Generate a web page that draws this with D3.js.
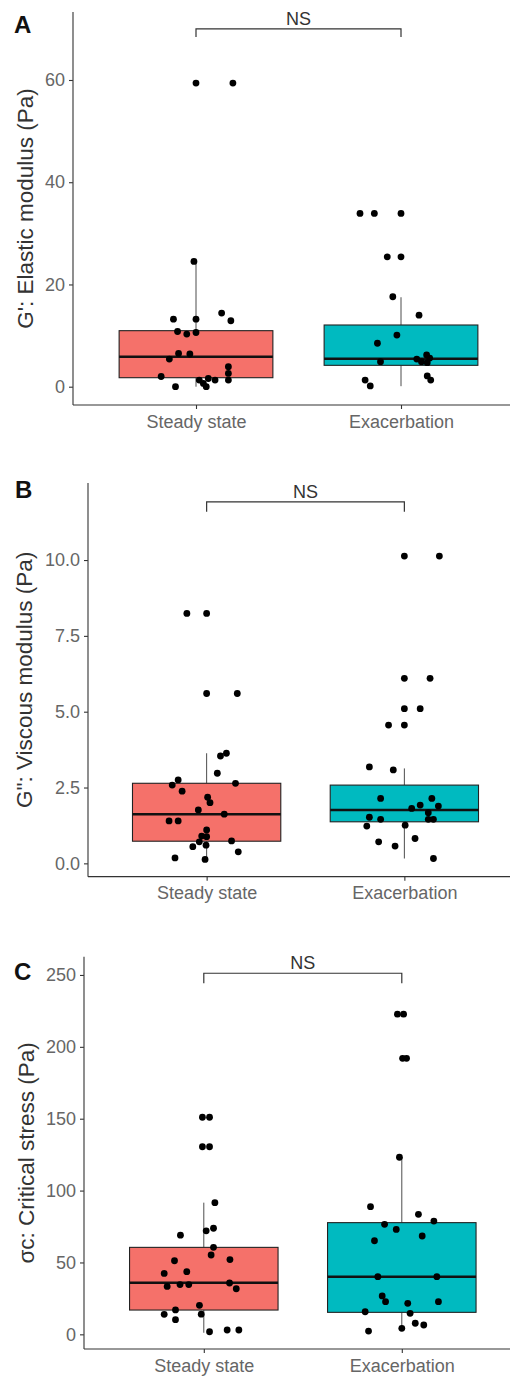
<!DOCTYPE html>
<html><head><meta charset="utf-8">
<script src="https://cdn.jsdelivr.net/npm/d3@7"></script>
<style>body{margin:0;background:#fff}svg{display:block}text{font-family:"Liberation Sans",Arial,sans-serif}</style>
</head><body>
<svg id="chart" width="510" height="1383"></svg>
<script>
// ---------- data ----------
const categories = ["Steady state", "Exacerbation"];

// Panel A: G' elastic modulus (Pa)
const elasticTicks = [0, 20, 40, 60];
const elasticSteady = [59.4, 59.4, 24.5, 13.2, 13.2, 14.4, 12.9, 10.8, 10.3, 10.6, 6.5, 6.4, 5.4, 2.0, 0.0, 1.3, 0.65, 0.0, 1.6, 1.3, 3.9, 2.6, 1.3];
const elasticSteadyJitter = [0.0, 0.18, -0.01, -0.11, 0.0, 0.125, 0.17, -0.09, -0.045, 0.0, -0.085, -0.03, -0.13, -0.17, -0.1, 0.016, 0.036, 0.05, 0.06, 0.093, 0.158, 0.158, 0.158];
const elasticExac = [33.9, 33.9, 33.9, 25.4, 25.4, 17.6, 14.0, 10.1, 8.5, 4.9, 5.4, 4.9, 6.2, 5.6, 4.7, 2.1, 1.3, 1.3, 0.15];
const elasticExacJitter = [-0.2, -0.13, 0.0, -0.067, 0.0, -0.04, 0.088, -0.02, -0.115, -0.1, 0.077, 0.1, 0.125, 0.14, 0.128, 0.128, 0.145, -0.175, -0.15];
// box stats: [lower whisker, q1, median, q3, upper whisker]
const elasticSteadyBox = [0.0, 1.76, 5.87, 10.96, 24.5];
const elasticExacBox = [0.1, 4.18, 5.48, 12.07, 17.5];
const elasticBracket = [68.4, 70.0]; // tip, bar

// Panel B: G'' viscous modulus (Pa)
const viscousTicks = [0, 2.5, 5, 7.5, 10];
const viscousSteady = [8.24, 8.24, 5.6, 5.6, 3.54, 3.63, 2.97, 2.64, 2.75, 2.58, 2.38, 2.18, 2.0, 1.76, 1.62, 1.4, 1.4, 1.1, 0.9, 0.88, 0.71, 0.55, 0.6, 0.74, 0.38, 0.18, 0.13];
const viscousSteadyJitter = [-0.1, 0.0, 0.0, 0.155, 0.07, 0.1, 0.054, 0.146, -0.144, -0.174, -0.124, 0.005, 0.017, -0.042, 0.089, -0.19, -0.144, 0.0, -0.025, 0.0, -0.037, -0.07, -0.003, 0.126, 0.16, -0.16, -0.008];
const viscousExac = [10.13, 10.13, 6.1, 6.1, 5.1, 5.1, 4.56, 4.56, 3.18, 3.08, 2.14, 1.81, 1.92, 2.14, 1.89, 1.67, 1.52, 1.45, 1.45, 1.45, 1.23, 1.26, 0.71, 0.57, 0.82, 0.16];
const viscousExacJitter = [0.0, 0.177, 0.0, 0.13, 0.0, 0.08, -0.08, 0.0, -0.177, -0.056, -0.12, 0.037, 0.08, 0.139, 0.172, 0.121, -0.177, -0.12, 0.121, 0.147, -0.19, 0.004, -0.13, -0.047, 0.054, 0.147];
const viscousSteadyBox = [0.11, 0.73, 1.62, 2.64, 3.63];
const viscousExacBox = [0.16, 1.37, 1.76, 2.58, 3.13];
const viscousBracket = [11.59, 11.92];

// Panel C: σc critical stress (Pa)
const stressTicks = [0, 50, 100, 150, 200, 250];
const stressSteady = [151, 151, 130.5, 130.5, 91.6, 72, 73.8, 69, 60.5, 55.2, 51.2, 52, 42.4, 43.6, 33.3, 34.6, 34.6, 35.7, 31.7, 20.2, 14, 13.9, 10.2, 17, 1.8, 3, 3];
const stressSteadyJitter = [-0.007, 0.029, -0.007, 0.029, 0.056, 0.012, 0.049, -0.118, 0.049, 0.037, -0.148, 0.132, -0.2, -0.086, -0.185, -0.12, -0.076, 0.13, 0.164, -0.022, -0.013, -0.2, -0.143, -0.143, 0.029, 0.118, 0.177];
const stressExac = [222.7, 222.7, 192, 192, 123.2, 88.8, 83.5, 78.8, 76.5, 73, 68.4, 65.1, 40.1, 40.1, 26.7, 22.7, 21.6, 22.7, 15.7, 14.6, 7.7, 6.5, 2.3, 4.2];
const stressExacJitter = [-0.022, 0.009, 0.004, 0.024, -0.012, -0.158, 0.084, 0.162, -0.087, -0.028, 0.103, -0.138, -0.121, 0.177, -0.099, -0.082, 0.03, 0.185, -0.185, 0.042, 0.068, 0.111, -0.168, 0.0];
const stressSteadyBox = [1.1, 16.9, 35.9, 60.5, 91.6];
const stressExacBox = [4.2, 15.3, 40.1, 77.7, 123.2];
const stressBracket = [244.2, 251.2];

// ---------- layout / style ----------
const fills = ["#F5716A", "#00BAC0"];
const svg = d3.select("#chart");

const panels = [
  { tag: "A", title: "G': Elastic modulus (Pa)", ticks: elasticTicks, fmt: d3.format("d"),
    series: [[elasticSteady, elasticSteadyJitter, elasticSteadyBox], [elasticExac, elasticExacJitter, elasticExacBox]],
    bracket: elasticBracket,
    left: 73, top: 12, bottom: 405, xr: [73, 524], domain: [-3.58, 73.3], titleX: 25, tagY: 33, tagX: 14 },
  { tag: "B", title: "G\": Viscous modulus (Pa)", ticks: viscousTicks, fmt: d3.format(".1f"),
    series: [[viscousSteady, viscousSteadyJitter, viscousSteadyBox], [viscousExac, viscousExacJitter, viscousExacBox]],
    bracket: viscousBracket,
    left: 88, top: 483, bottom: 876.7, xr: [88, 523], domain: [-0.44, 12.54], titleX: 24, tagY: 498, tagX: 15 },
  { tag: "C", title: "σc: Critical stress (Pa)", ticks: stressTicks, fmt: d3.format("d"),
    series: [[stressSteady, stressSteadyJitter, stressSteadyBox], [stressExac, stressExacJitter, stressExacBox]],
    bracket: stressBracket,
    left: 84, top: 956.7, bottom: 1349, xr: [85, 520.6], domain: [-10.2, 262.7], titleX: 26, tagY: 980, tagX: 14 }
];

panels.forEach(p => {
  const g = svg.append("g");
  const y = d3.scaleLinear().domain(p.domain).range([p.bottom, p.top]);
  const x = d3.scalePoint().domain(categories).range(p.xr).padding(0.6);
  const step = x.step();
  const bw = step * 0.75;

  p.series.forEach((s, i) => {
    const [vals, jit, box] = s;
    const cx = x(categories[i]);
    g.append("line").attr("x1", cx).attr("x2", cx).attr("y1", y(box[3])).attr("y2", y(box[4]))
      .attr("stroke", "#4d4d4d").attr("stroke-width", 1);
    g.append("line").attr("x1", cx).attr("x2", cx).attr("y1", y(box[1])).attr("y2", y(box[0]))
      .attr("stroke", "#4d4d4d").attr("stroke-width", 1);
    g.append("rect").attr("x", cx - bw / 2).attr("width", bw)
      .attr("y", y(box[3])).attr("height", y(box[1]) - y(box[3]))
      .attr("fill", fills[i]).attr("stroke", "#222").attr("stroke-width", 1.1);
    g.append("line").attr("x1", cx - bw / 2).attr("x2", cx + bw / 2).attr("y1", y(box[2])).attr("y2", y(box[2]))
      .attr("stroke", "#111").attr("stroke-width", 2.6);
  });
  p.series.forEach((s, i) => {
    const [vals, jit] = s;
    const cx = x(categories[i]);
    g.selectAll(null).data(vals.map((v, k) => [v, jit[k]])).enter().append("circle")
      .attr("cx", d => cx + d[1] * step).attr("cy", d => y(d[0])).attr("r", 3.4).attr("fill", "#000");
  });

  const ya = g.append("g").attr("transform", `translate(${p.left},0)`)
    .call(d3.axisLeft(y).tickValues(p.ticks).tickFormat(p.fmt).tickSize(4).tickPadding(4));
  ya.select(".domain").remove();
  ya.selectAll(".tick line").attr("stroke", "#333").attr("stroke-width", 1.1);
  ya.selectAll(".tick text").attr("fill", "#666").style("font-size", "18px").style("font-family", "'Liberation Sans',Arial,sans-serif");
  g.append("line").attr("x1", p.left).attr("x2", p.left).attr("y1", p.top).attr("y2", p.bottom)
    .attr("stroke", "#444").attr("stroke-width", 1.2);

  const xa = g.append("g").attr("transform", `translate(0,${p.bottom})`)
    .call(d3.axisBottom(x).tickSize(4).tickPadding(6));
  xa.select(".domain").remove();
  xa.selectAll(".tick line").attr("stroke", "#333").attr("stroke-width", 1.1);
  xa.selectAll(".tick text").attr("fill", "#666").style("font-size", "18px").style("font-family", "'Liberation Sans',Arial,sans-serif");
  g.append("line").attr("x1", p.left).attr("x2", 510).attr("y1", p.bottom).attr("y2", p.bottom)
    .attr("stroke", "#333").attr("stroke-width", 1.2);

  g.append("text").attr("transform", `translate(${p.titleX},${(p.top + p.bottom) / 2}) rotate(-90)`)
    .attr("text-anchor", "middle").attr("dy", "0.35em").attr("fill", "#333")
    .style("font-size", "22.5px").text(p.title);

  g.append("text").attr("x", p.tagX).attr("y", p.tagY).style("font-size", "24px").style("font-weight", "bold")
    .attr("fill", "#111").text(p.tag);

  const x1 = x(categories[0]), x2 = x(categories[1]);
  g.append("path").attr("d", `M${x1},${y(p.bracket[0])}V${y(p.bracket[1])}H${x2}V${y(p.bracket[0])}`)
    .attr("fill", "none").attr("stroke", "#333").attr("stroke-width", 1.2);
  g.append("text").attr("x", (x1 + x2) / 2).attr("y", y(p.bracket[1]) - 4).attr("text-anchor", "middle")
    .attr("fill", "#333").style("font-size", "18px").text("NS");
});
</script>
</body></html>
